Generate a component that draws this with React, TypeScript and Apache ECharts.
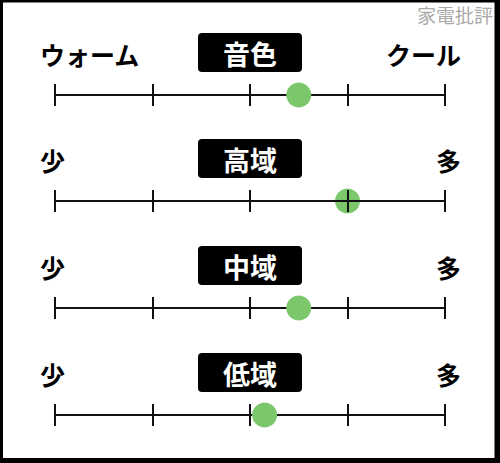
import React, { useEffect, useRef } from "react";
import * as echarts from "echarts";

const rowTitles = ["音色", "高域", "中域", "低域"];
const leftLabels = ["ウォーム", "少", "少", "少"];
const rightLabels = ["クール", "多", "多", "多"];
const values = [2.5, 3.0, 2.5, 2.15];
const scaleMin = 0;
const scaleMax = 4;
const scaleInterval = 1;
const watermark = "家電批評";

const W = 500;
const H = 463;
const axisYs = [95, 201, 308, 415];
const FONT = '"Noto Sans CJK JP", "Noto Sans", sans-serif';

export default function App() {
  const ref = useRef<HTMLDivElement>(null);
  useEffect(() => {
    document.body.style.margin = "0";
    const chart = echarts.init(ref.current!, null, { renderer: "svg" });
    const grids = axisYs.map((y) => ({ left: 55, right: 55, top: y - 11, height: 22, containLabel: false }));
    const xAxes = axisYs.map((_, i) => ({
      type: "value",
      gridIndex: i,
      min: scaleMin,
      max: scaleMax,
      interval: scaleInterval,
      z: i === 1 ? 5 : 0,
      axisLine: { show: true, onZero: true, lineStyle: { color: "#111", width: 2 } },
      axisTick: { show: false },
      axisLabel: { show: false },
      splitLine: { show: true, lineStyle: { color: "#111", width: 2 } },
    }));
    const yAxes = axisYs.map((_, i) => ({
      type: "value",
      gridIndex: i,
      min: -1,
      max: 1,
      show: false,
      splitLine: { show: false },
    }));
    const series = values.map((v, i) => ({
      type: "scatter",
      xAxisIndex: i,
      yAxisIndex: i,
      data: [[v, 0]],
      symbol: "circle",
      symbolSize: 25,
      z: 2,
      itemStyle: { color: "#7cc76b", opacity: 1 },
      silent: true,
    }));
    const graphics: any[] = [
      { type: "rect", shape: { x: 0, y: 0, width: 3, height: H }, style: { fill: "#000" } },
      { type: "rect", shape: { x: 0, y: 0, width: W, height: 2.5 }, style: { fill: "#000" } },
      { type: "rect", shape: { x: 494.5, y: 0, width: 6, height: H }, style: { fill: "#000" } },
      { type: "rect", shape: { x: 0, y: 458, width: W, height: 5 }, style: { fill: "#000" } },
      {
        type: "text",
        x: 493,
        y: 14,
        style: { text: watermark, fill: "#a9a9a9", font: `400 19px ${FONT}`, textAlign: "right", textVerticalAlign: "middle" },
      },
    ];
    axisYs.forEach((y, i) => {
      const cy = y - 42.5;
      graphics.push(
        { type: "rect", shape: { x: 198, y: cy - 19.5, width: 104, height: 39, r: 4 }, style: { fill: "#000" } },
        {
          type: "text",
          x: 250,
          y: cy + 1,
          style: { text: rowTitles[i], fill: "#fff", font: `700 27px ${FONT}`, textAlign: "center", textVerticalAlign: "middle" },
        },
        {
          type: "text",
          x: 40,
          y: cy + 1,
          style: { text: leftLabels[i], fill: "#000", font: `700 25px ${FONT}`, textAlign: "left", textVerticalAlign: "middle" },
        },
        {
          type: "text",
          x: 461,
          y: cy + 1,
          style: { text: rightLabels[i], fill: "#000", font: `700 25px ${FONT}`, textAlign: "right", textVerticalAlign: "middle" },
        }
      );
    });
    chart.setOption({
      animation: false,
      backgroundColor: "#fff",
      grid: grids,
      xAxis: xAxes,
      yAxis: yAxes,
      series,
      graphic: graphics,
    });
    return () => chart.dispose();
  }, []);
  return <div ref={ref} style={{ width: W, height: H }} />;
}
